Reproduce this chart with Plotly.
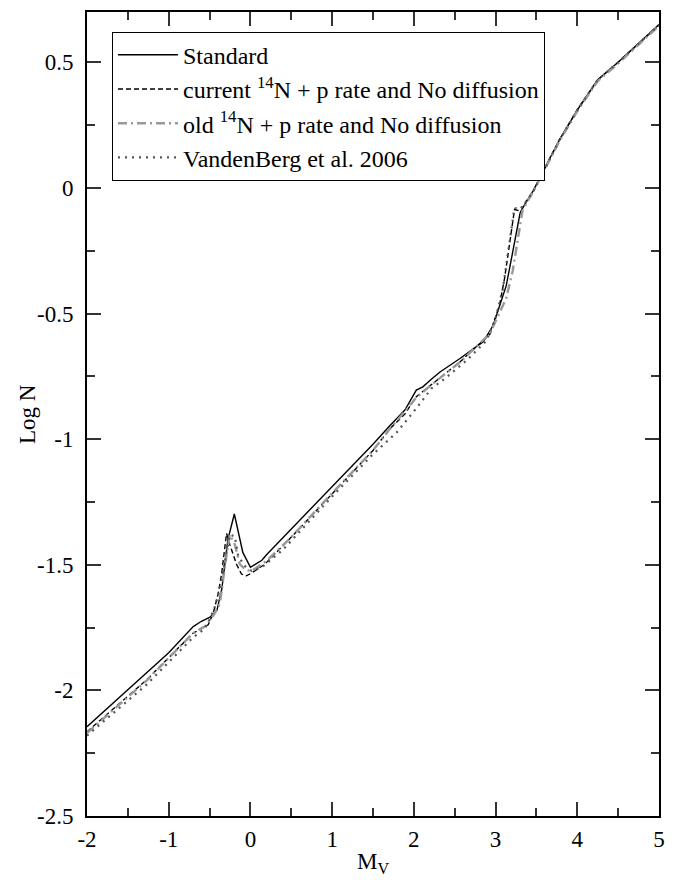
import plotly.graph_objects as go

# Standard model
x_std = [-2.0, -1.5, -1.0, -0.70, -0.60, -0.50, -0.41, -0.35, -0.276, -0.197, -0.093, 0.0, 0.14, 0.20,
         0.5, 1.0, 1.5, 1.70, 1.89, 2.03, 2.11, 2.21, 2.32, 2.56, 2.68, 2.85, 2.97, 3.04, 3.13, 3.21,
         3.26, 3.30, 3.35, 3.46, 3.62, 3.78, 4.0, 4.12, 4.25, 4.5, 4.75, 5.0]
y_std = [-2.145, -1.997, -1.85, -1.746, -1.725, -1.71, -1.682, -1.596, -1.40, -1.298, -1.451, -1.51, -1.482, -1.459,
         -1.358, -1.19, -1.02, -0.949, -0.884, -0.805, -0.792, -0.763, -0.733, -0.68, -0.652, -0.612, -0.548, -0.48, -0.39, -0.255,
         -0.16, -0.10, -0.07, -0.012, 0.09, 0.19, 0.31, 0.37, 0.43, 0.50, 0.575, 0.65]

# current 14N + p rate, no diffusion
x_cur = [-2.0, -1.267, -0.704, -0.517, -0.456, -0.395, -0.353, -0.292, -0.252, -0.17, -0.11, -0.048, 0.013, 0.176,
         0.5, 1.0, 1.5, 1.70, 1.89, 2.03, 2.21, 2.56, 2.93, 3.05, 3.11, 3.17, 3.21, 3.232, 3.31, 3.35, 3.46,
         3.62, 3.78, 4.0, 4.12, 4.25, 4.5, 4.75, 5.0]
y_cur = [-2.165, -1.957, -1.773, -1.739, -1.694, -1.616, -1.537, -1.375, -1.42, -1.498, -1.537, -1.544, -1.533, -1.498,
         -1.39, -1.218, -1.045, -0.961, -0.9, -0.831, -0.785, -0.694, -0.583, -0.465, -0.36, -0.23, -0.138, -0.086, -0.093, -0.067, -0.012,
         0.09, 0.19, 0.31, 0.37, 0.43, 0.50, 0.575, 0.648]

# old 14N + p rate, no diffusion
x_old = [-2.0, -1.267, -0.704, -0.557, -0.45, -0.374, -0.31, -0.252, -0.19, -0.13, -0.06, 0.013, 0.197,
         0.5, 1.0, 1.5, 1.70, 2.03, 2.21, 2.56, 2.93, 3.05, 3.13, 3.21, 3.253, 3.293, 3.33, 3.38, 3.46,
         3.62, 3.78, 4.0, 4.12, 4.25, 4.5, 4.75, 5.0]
y_old = [-2.17, -1.96, -1.773, -1.745, -1.70, -1.655, -1.50, -1.38, -1.42, -1.498, -1.52, -1.525, -1.485,
         -1.39, -1.215, -1.045, -0.962, -0.835, -0.785, -0.695, -0.58, -0.50, -0.44, -0.33, -0.243, -0.152, -0.09, -0.06, -0.015,
         0.085, 0.185, 0.305, 0.365, 0.425, 0.495, 0.57, 0.645]

# VandenBerg et al. 2006
x_vdb = [-2.0, -1.267, -0.704, -0.56, -0.496, -0.435, -0.374, -0.313, -0.252, -0.191, -0.15, -0.068, 0.013, 0.136,
         0.4, 1.0, 1.5, 1.786, 2.031, 2.214, 2.376, 2.641, 2.886, 3.0, 3.09, 3.17, 3.23, 3.30, 3.35, 3.46,
         3.62, 3.78, 4.0, 4.12, 4.25, 4.5, 4.75, 5.0]
y_vdb = [-2.18, -1.976, -1.79, -1.755, -1.715, -1.667, -1.596, -1.485, -1.38, -1.387, -1.465, -1.505, -1.524, -1.511,
         -1.44, -1.228, -1.06, -0.975, -0.877, -0.799, -0.76, -0.688, -0.609, -0.52, -0.40, -0.22, -0.08, -0.085, -0.065, -0.015,
         0.09, 0.19, 0.31, 0.37, 0.43, 0.50, 0.575, 0.648]

x_ticks = [-2, -1, 0, 1, 2, 3, 4, 5]
x_ticktext = ["-2", "-1", "0", "1", "2", "3", "4", "5"]
y_ticks = [-2.5, -2, -1.5, -1, -0.5, 0, 0.5]
y_ticktext = ["-2.5", "-2", "-1.5", "-1", "-0.5", "0", "0.5"]

FONT = "Liberation Serif, Times New Roman, serif"

fig = go.Figure()
fig.add_trace(go.Scatter(x=x_std, y=y_std, mode="lines", name="Standard", legendgroup="a",
                         line=dict(color="black", width=1.4)))
fig.add_trace(go.Scatter(x=x_cur, y=y_cur, mode="lines", name="current <sup>14</sup>N + p rate and No diffusion",
                         legendgroup="b", line=dict(color="black", width=1.4, dash="5px,3px")))
fig.add_trace(go.Scatter(x=x_old, y=y_old, mode="lines", name="old <sup>14</sup>N + p rate and No diffusion",
                         legendgroup="c", line=dict(color="#999999", width=2.4, dash="9px,4px,2px,4px")))
fig.add_trace(go.Scatter(x=x_vdb, y=y_vdb, mode="lines", name="VandenBerg et al. 2006",
                         legendgroup="d", line=dict(color="#555555", width=2.2, dash="2px,5px")))

axis_common = dict(
    showgrid=False, zeroline=False, showline=True, linecolor="black", linewidth=2,
    mirror="allticks", ticks="inside", ticklen=14, tickwidth=1.5, tickcolor="#333333",
    tickfont=dict(family=FONT, size=23, color="black"),
)

fig.update_xaxes(range=[-2, 5], tickvals=x_ticks, ticktext=x_ticktext,
                 minor=dict(ticks="inside", ticklen=8, tickwidth=1.5, tickcolor="#333333", dtick=0.5, tick0=0),
                 title=dict(text="M<sub>V</sub>", font=dict(family=FONT, size=23, color="black"), standoff=2),
                 ticklabelstandoff=1, **axis_common)
fig.update_yaxes(range=[-2.5, 0.7], tickvals=y_ticks, ticktext=y_ticktext,
                 minor=dict(ticks="inside", ticklen=8, tickwidth=1.5, tickcolor="#333333", dtick=0.25, tick0=0),
                 ticklabelstandoff=7, **axis_common)

# y-axis title placed as a rotated annotation just left of the tick labels
fig.add_annotation(text="Log N", textangle=-90, xref="paper", yref="paper",
                   x=-0.105, y=0.5, xanchor="center", yanchor="middle", showarrow=False,
                   font=dict(family=FONT, size=23, color="black"))

fig.update_layout(
    width=678, height=880,
    margin=dict(l=87, r=19, t=10, b=55),
    plot_bgcolor="white", paper_bgcolor="white",
    showlegend=True,
    legend=dict(x=0.0437, y=0.9755, xanchor="left", yanchor="top",
                bordercolor="black", borderwidth=1, bgcolor="white",
                font=dict(family=FONT, size=24, color="black"),
                itemwidth=60, tracegroupgap=2, traceorder="normal"),
)

fig.write_html("out.html")
